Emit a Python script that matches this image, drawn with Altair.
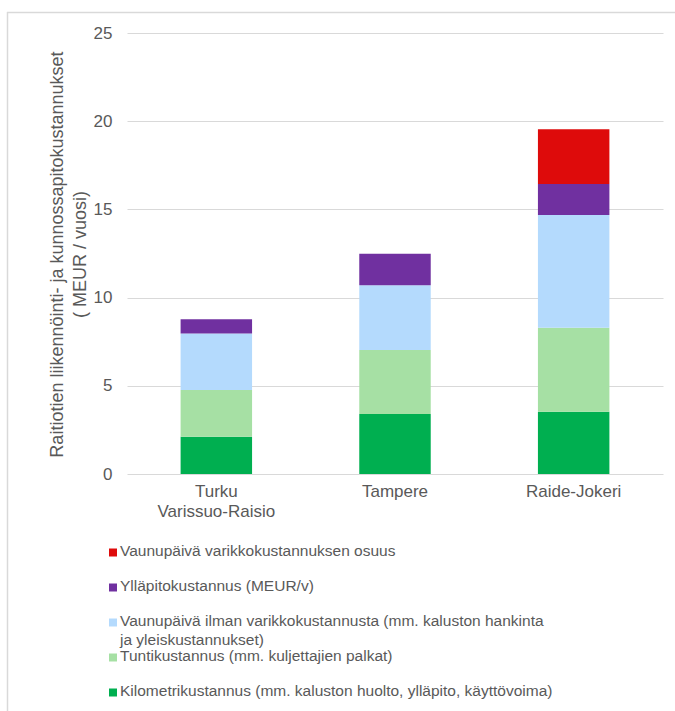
import altair as alt
import pandas as pd

# ---- data (MEUR / vuosi) ----
categories = ["Turku Varissuo-Raisio", "Tampere", "Raide-Jokeri"]
series = [
    "Kilometrikustannus (mm. kaluston huolto, ylläpito, käyttövoima)",
    "Tuntikustannus (mm. kuljettajien palkat)",
    "Vaunupäivä ilman varikkokustannusta (mm. kaluston hankinta\nja yleiskustannukset)",
    "Ylläpitokustannus (MEUR/v)",
    "Vaunupäivä varikkokustannuksen osuus",
]
kilometri = [2.11, 3.40, 3.53]
tunti = [2.65, 3.63, 4.76]
vaunu_ilman = [3.21, 3.67, 6.39]
yllapito = [0.80, 1.79, 1.76]
varikko = [0.0, 0.0, 3.10]
colors = ["#00AF50", "#A6E0A4", "#B4DAFD", "#7030A0", "#DE0B0B"]
y_ticks = [0, 5, 10, 15, 20, 25]

values = [kilometri, tunti, vaunu_ilman, yllapito, varikko]
rows = []
for si, (s, vals) in enumerate(zip(series, values)):
    for c, v in zip(categories, vals):
        rows.append({"kategoria": c, "sarja": s, "arvo": v, "jarj": si})
df = pd.DataFrame(rows)

legend_df = pd.DataFrame({"sarja": series, "jarj": list(range(len(series)))})

FONT = "Liberation Sans"
GRAY = "#595959"
W, H = 536, 441

color_scale = alt.Scale(domain=series, range=colors)

bars = alt.Chart(df).mark_bar().encode(
    x=alt.X("kategoria:N", sort=categories, title=None,
            scale=alt.Scale(paddingInner=0.6, paddingOuter=0.3),
            axis=alt.Axis(labelAngle=0, labelExpr="split(datum.label, ' ')",
                          labelFontSize=17, labelLineHeight=20, labelColor=GRAY,
                          labelFont=FONT, labelPadding=9, ticks=False, domain=False,
                          grid=False)),
    y=alt.Y("arvo:Q", stack="zero",
            scale=alt.Scale(domain=[0, 25], nice=False),
            title=["Raitiotien liikennöinti- ja kunnossapitokustannukset", "( MEUR / vuosi)"],
            axis=alt.Axis(values=y_ticks, labelFontSize=17, labelColor=GRAY, labelFont=FONT,
                          labelPadding=15, ticks=False, tickSize=0, domain=False,
                          gridColor="#D9D9D9", gridWidth=1.2,
                          titleFont=FONT, titleFontSize=18, titleFontWeight="normal",
                          titleColor=GRAY, titleLineHeight=23, titleAngle=270,
                          titleBaseline="middle", titleAlign="center",
                          titleX=-70, titleY=221)),
    color=alt.Color("sarja:N", scale=color_scale, legend=None),
    order=alt.Order("jarj:Q", sort="ascending"),
)

legend_y = alt.Y("sarja:N", sort=series[::-1], axis=None,
                 scale=alt.Scale(type="point", range=[519.5, 659.5], padding=0))

leg_sym = alt.Chart(legend_df).mark_square(size=64, opacity=1).encode(
    x=alt.value(-14),
    y=legend_y,
    color=alt.Color("sarja:N", scale=color_scale, legend=None),
)

leg_txt = alt.Chart(legend_df).mark_text(
    align="left", baseline="top", dy=-9, lineBreak="\n", lineHeight=19,
    fontSize=15.5, font=FONT, color=GRAY,
).encode(
    x=alt.value(-7),
    y=legend_y,
    text="sarja:N",
)

frame_df = pd.DataFrame({"k": [0]})
frame_top = alt.Chart(frame_df).mark_rule(color="#D9D9D9", strokeWidth=1.5).encode(
    x=alt.value(-120), x2=alt.value(W + 20), y=alt.value(-20.5))
frame_left = alt.Chart(frame_df).mark_rule(color="#D9D9D9", strokeWidth=1.5).encode(
    x=alt.value(-119.5), y=alt.value(-21), y2=alt.value(H + 260))

chart = alt.layer(frame_top, frame_left, bars, leg_sym, leg_txt).resolve_scale(
    y="independent"
).properties(
    width=W, height=H,
    autosize=alt.AutoSizeParams(type="none"),
    padding={"left": 127, "top": 33, "right": 12, "bottom": 237},
    background="white",
).configure_view(stroke=None)

chart.save("out.html", embed_options={"renderer": "svg", "actions": False})
